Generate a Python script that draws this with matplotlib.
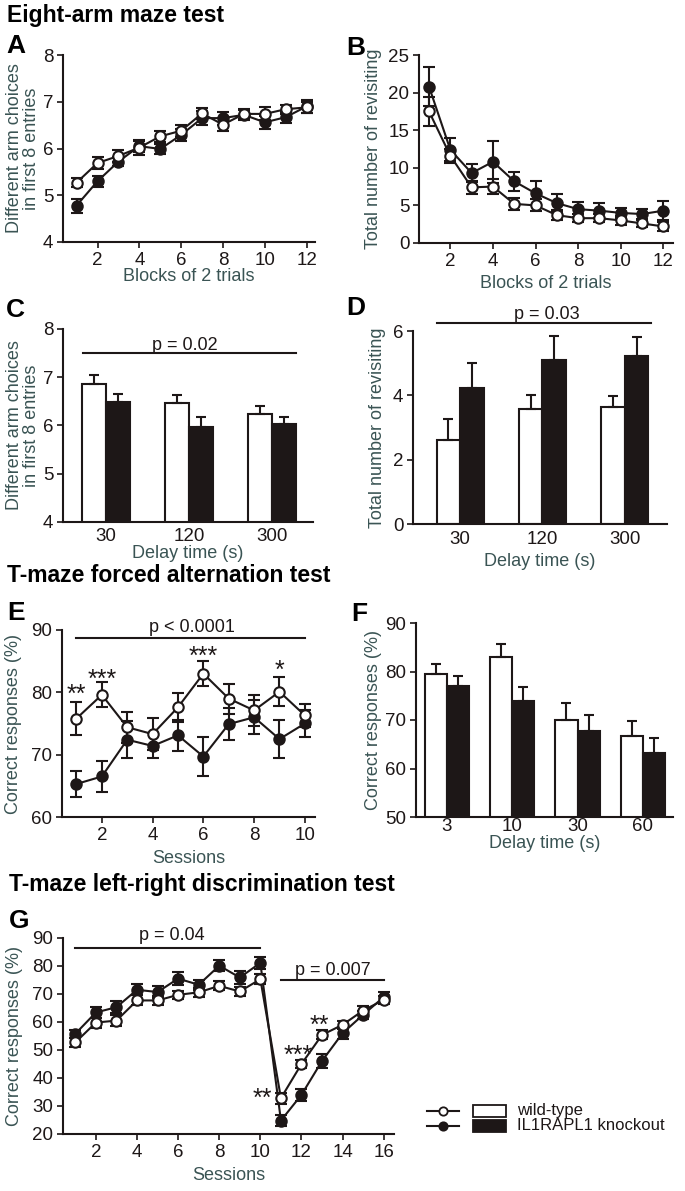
import numpy as np
import matplotlib.pyplot as plt
from matplotlib.patches import Rectangle

plt.rcParams['font.family'] = ['Liberation Sans', 'DejaVu Sans']

W, H = 685, 1191
ink = '#1d1717'
lab = '#3a5454'

# A: eight-arm maze, different arm choices
blocks = np.arange(1, 13)
a_wt = [5.27, 5.69, 5.84, 6.02, 6.26, 6.38, 6.75, 6.51, 6.74, 6.74, 6.84, 6.88]
a_wt_err = [0.10, 0.13, 0.12, 0.15, 0.12, 0.13, 0.12, 0.14, 0.10, 0.14, 0.10, 0.12]
a_ko = [4.78, 5.30, 5.72, 6.05, 5.99, 6.29, 6.65, 6.65, 6.72, 6.56, 6.67, 6.90]
a_ko_err = [0.15, 0.12, 0.10, 0.13, 0.10, 0.12, 0.15, 0.14, 0.10, 0.14, 0.12, 0.13]

# B: eight-arm maze, revisiting
b_wt = [17.5, 11.6, 7.4, 7.5, 5.2, 5.0, 3.7, 3.3, 3.3, 3.0, 2.6, 2.2]
b_wt_err = [1.9, 0.9, 0.9, 1.0, 0.8, 0.8, 0.7, 0.5, 0.5, 0.6, 0.5, 0.6]
b_ko = [20.8, 12.4, 9.3, 10.8, 8.2, 6.6, 5.3, 4.5, 4.3, 4.0, 3.85, 4.3]
b_ko_err = [2.6, 1.5, 1.2, 2.8, 1.3, 1.6, 1.2, 1.0, 1.0, 0.7, 0.7, 1.3]

# C, D: delay bars
delays_cd = ['30', '120', '300']
c_wt = [6.87, 6.47, 6.24]
c_wt_err = [0.17, 0.16, 0.17]
c_ko = [6.48, 5.96, 6.03]
c_ko_err = [0.18, 0.22, 0.15]
d_wt = [2.62, 3.57, 3.65]
d_wt_err = [0.65, 0.43, 0.33]
d_ko = [4.22, 5.10, 5.22]
d_ko_err = [0.80, 0.73, 0.58]

# E: T-maze forced alternation by session
sess_e = np.arange(1, 11)
e_wt = [75.8, 79.6, 74.4, 73.3, 77.6, 83.0, 79.0, 77.1, 80.1, 76.3]
e_wt_err = [2.7, 2.0, 2.5, 2.6, 2.3, 2.0, 2.4, 2.5, 2.3, 1.8]
e_ko = [65.3, 66.5, 72.4, 71.4, 73.1, 69.7, 74.9, 76.0, 72.5, 75.0]
e_ko_err = [2.1, 2.5, 3.0, 2.0, 2.5, 3.1, 2.6, 2.7, 3.0, 2.2]

# F: forced alternation by delay
delays_f = ['3', '10', '30', '60']
f_wt = [79.4, 82.9, 69.9, 66.6]
f_wt_err = [2.1, 2.7, 3.6, 3.1]
f_ko = [77.0, 73.85, 67.7, 63.1]
f_ko_err = [2.0, 3.0, 3.4, 3.2]

# G: left-right discrimination
sess_g = np.arange(1, 17)
g_wt = [52.7, 59.8, 60.5, 67.7, 67.7, 69.7, 70.6, 72.9, 70.9, 75.3,
        32.8, 45.0, 55.4, 59.0, 64.1, 67.9]
g_wt_err = [1.5, 1.8, 2.0, 1.8, 1.6, 1.5, 1.5, 1.6, 1.5, 1.8,
            2.0, 1.5, 1.6, 1.5, 1.5, 1.5]
g_ko = [55.8, 63.4, 65.3, 71.5, 70.7, 75.5, 73.3, 80.1, 75.9, 81.1,
        24.8, 34.0, 46.1, 56.0, 62.6, 68.9]
g_ko_err = [1.5, 2.0, 2.2, 2.0, 2.0, 2.2, 1.8, 2.0, 2.2, 2.0,
            2.0, 2.2, 2.5, 2.2, 1.5, 1.8]

# significance stars (x, y of glyph centre)
e_stars = [(1, 80.7, '**'), (2, 83.2, '***'), (6, 86.8, '***'), (9, 84.6, '*')]
g_stars = [(10.12, 35.1, '**'), (11.82, 50.3, '***'), (12.87, 61.0, '**')]


def box(l, t, r, b):
    return [l / W, 1 - b / H, (r - l) / W, (b - t) / H]


def style(ax):
    for s in ['top', 'right']:
        ax.spines[s].set_visible(False)
    for s in ['left', 'bottom']:
        ax.spines[s].set_linewidth(1.5)
        ax.spines[s].set_color(ink)
    ax.tick_params(direction='out', length=4, width=1.2, labelsize=13.5,
                   colors=ink, pad=3)


def lines(ax, x, wt, wte, ko, koe):
    kw = dict(color=ink, lw=1.5, elinewidth=1.5, capsize=4.5, capthick=1.5,
              marker='o', ms=7.5, mec=ink, mew=1.5)
    ax.errorbar(x, ko, yerr=koe, mfc=ink, zorder=2, **kw)
    ax.errorbar(x, wt, yerr=wte, mfc='white', zorder=3, **kw)


def bars(ax, wt, wte, ko, koe, w):
    x = np.arange(len(wt))
    z = np.zeros(len(wt))
    ekw = dict(ecolor=ink, elinewidth=1.5, capsize=3.5, capthick=1.5)
    ax.bar(x - w / 2, wt, w, color='white', edgecolor=ink, lw=1.5,
           yerr=[z, wte], error_kw=ekw)
    ax.bar(x + w / 2, ko, w, color=ink, edgecolor=ink, lw=1.5,
           yerr=[z, koe], error_kw=ekw)
    ax.set_xticks(x)


def pline(ax, x0, x1, y, ty, tx, txt):
    ax.plot([x0, x1], [y, y], color=ink, lw=1.5, clip_on=False)
    ax.text(tx, ty, txt, ha='center', va='baseline', fontsize=13,
            color=ink, clip_on=False)


def stars(ax, items, ppu):
    # glyph of an asterisk sits about 14 px above the baseline
    for sx, sy, st in items:
        ax.text(sx, sy - 14 / ppu, st, ha='center', va='baseline',
                fontsize=18, color=ink)


def labels(ax, xl, yl, xy, yx):
    ax.set_xlabel(xl, fontsize=13, color=lab)
    ax.set_ylabel(yl, fontsize=13, color=lab, linespacing=1.05)
    ax.xaxis.set_label_coords(0.5, xy)
    ax.yaxis.set_label_coords(yx, 0.5)


fig = plt.figure(figsize=(W / 100, H / 100), dpi=100)

# A
ax = fig.add_axes(box(63, 55, 315, 242))
style(ax)
lines(ax, blocks, a_wt, a_wt_err, a_ko, a_ko_err)
ax.set_xlim(0.35, 12.4)
ax.set_ylim(4, 8)
ax.set_xticks(range(2, 13, 2))
ax.set_yticks(range(4, 9))
labels(ax, 'Blocks of 2 trials', 'Different arm choices\nin first 8 entries', -0.14, -0.09)

# B
ax = fig.add_axes(box(419, 55, 673, 243))
style(ax)
lines(ax, blocks, b_wt, b_wt_err, b_ko, b_ko_err)
ax.set_xlim(0.53, 12.45)
ax.set_ylim(0, 25)
ax.set_xticks(range(2, 13, 2))
ax.set_yticks(range(0, 26, 5))
labels(ax, 'Blocks of 2 trials', 'Total number of revisiting', -0.17, -0.145)

# C
ax = fig.add_axes(box(63, 329, 313, 522))
style(ax)
bars(ax, c_wt, c_wt_err, c_ko, c_ko_err, 0.29)
ax.set_xticklabels(delays_cd)
ax.set_xlim(-0.52, 2.49)
ax.set_ylim(4, 8)
ax.set_yticks(range(4, 9))
ax.tick_params(axis='x', length=0, pad=4)
pline(ax, -0.28, 2.28, 7.5, 7.56, 0.95, 'p = 0.02')
labels(ax, 'Delay time (s)', 'Different arm choices\nin first 8 entries', -0.12, -0.09)

# D
ax = fig.add_axes(box(413, 331, 667, 524))
style(ax)
bars(ax, d_wt, d_wt_err, d_ko, d_ko_err, 0.285)
ax.set_xticklabels(delays_cd)
ax.set_xlim(-0.57, 2.51)
ax.set_ylim(0, 6)
ax.set_yticks(range(0, 7, 2))
ax.tick_params(axis='x', length=0, pad=5)
pline(ax, -0.28, 2.31, 6.25, 6.38, 1.05, 'p = 0.03')
labels(ax, 'Delay time (s)', 'Total number of revisiting', -0.15, -0.105)

# E
ax = fig.add_axes(box(62, 630, 315, 817))
style(ax)
lines(ax, sess_e, e_wt, e_wt_err, e_ko, e_ko_err)
ax.set_xlim(0.43, 10.4)
ax.set_ylim(60, 90)
ax.set_xticks(range(2, 11, 2))
ax.set_yticks(range(60, 91, 10))
pline(ax, 1, 10, 88.7, 89.7, 5.55, 'p < 0.0001')
stars(ax, e_stars, 187 / 30)
labels(ax, 'Sessions', 'Correct responses (%)', -0.176, -0.16)

# F
ax = fig.add_axes(box(416, 623, 673, 817))
style(ax)
bars(ax, f_wt, f_wt_err, f_ko, f_ko_err, 0.34)
ax.set_xticklabels(delays_f)
ax.set_xlim(-0.47, 3.46)
ax.set_ylim(50, 90)
ax.set_yticks(range(50, 91, 10))
ax.tick_params(axis='x', length=0, pad=1)
labels(ax, 'Delay time (s)', 'Correct responses (%)', -0.092, -0.133)

# G
ax = fig.add_axes(box(63, 938, 394, 1134))
style(ax)
lines(ax, sess_g, g_wt, g_wt_err, g_ko, g_ko_err)
ax.set_xlim(0.4, 16.5)
ax.set_ylim(20, 90)
ax.set_xticks(range(2, 17, 2))
ax.set_yticks(range(20, 91, 10))
pline(ax, 1, 10, 86.4, 89.4, 5.7, 'p = 0.04')
pline(ax, 11, 16, 75.1, 76.9, 13.5, 'p = 0.007')
stars(ax, g_stars, 196 / 70)
labels(ax, 'Sessions', 'Correct responses (%)', -0.167, -0.12)

# overlay in pixel coordinates for titles, panel letters and legend
ov = fig.add_axes([0, 0, 1, 1])
ov.set_xlim(0, W)
ov.set_ylim(H, 0)
ov.axis('off')

for tx, ty, tt in [(7, 22, 'Eight-arm maze test'),
                   (7, 582, 'T-maze forced alternation test'),
                   (9, 891, 'T-maze left-right discrimination test')]:
    ov.text(tx, ty, tt, fontsize=16.5, fontweight='bold', color='black', va='baseline')

for tx, ty, tt in [(6, 53, 'A'), (346, 55, 'B'), (6, 317, 'C'), (346, 315, 'D'),
                   (7, 620, 'E'), (351, 621, 'F'), (9, 928, 'G')]:
    ov.text(tx, ty, tt, fontsize=19, fontweight='bold', color='black', va='baseline')

for ly, fc, name in [(1110.5, 'white', 'wild-type'), (1125.5, ink, 'IL1RAPL1 knockout')]:
    ov.plot([427, 459], [ly, ly], color=ink, lw=1.5)
    ov.plot([443], [ly], 'o', ms=6, mfc=fc, mec=ink, mew=1.3)
    ov.add_patch(Rectangle((473, ly - 6), 33, 12, fc=fc, ec=ink, lw=1.3))
    ov.text(517, ly, name, fontsize=12, color=ink, va='center')

fig.savefig('out.png', dpi=100)
